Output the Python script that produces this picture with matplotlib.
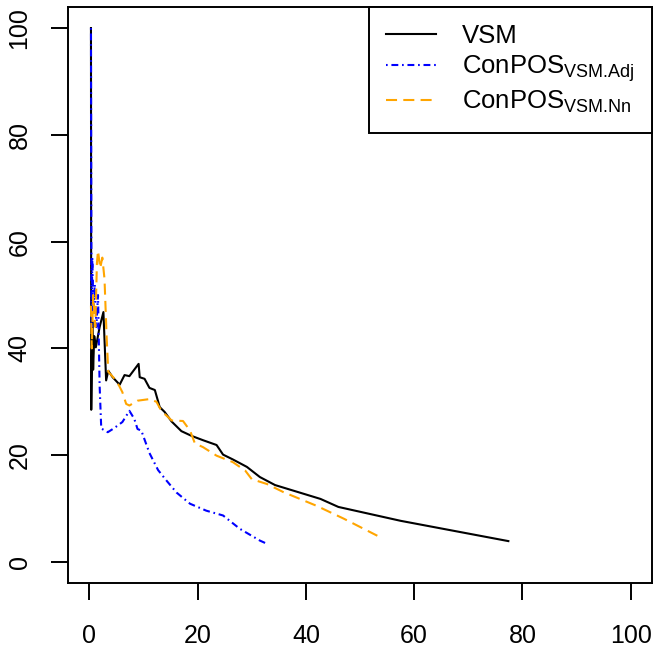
import matplotlib
matplotlib.use("Agg")
import matplotlib.pyplot as plt

plt.rcParams["font.family"] = ["Liberation Sans", "DejaVu Sans"]
plt.rcParams["mathtext.fontset"] = "custom"
plt.rcParams["mathtext.rm"] = "Liberation Sans"
plt.rcParams["mathtext.it"] = "Liberation Sans"

# series
vsm_x = [0.3, 0.35, 0.55, 0.7, 0.9, 1.2, 1.9, 2.6, 3.1, 3.5, 4.3, 5.6, 6.5, 7.4,
         9.1, 9.3, 10.2, 11.1, 12.1, 13.0, 13.9, 15.2, 17.0, 18.9, 21.0, 23.5,
         24.7, 26.5, 29.1, 31.5, 34.3, 42.7, 46.0, 57.5, 77.4]
vsm_y = [100, 28.5, 45, 36, 42.3, 40.2, 44, 46.8, 34, 35.8, 34.6, 33.2, 35, 34.8,
         37.1, 34.6, 34.3, 32.6, 32.2, 29, 28.1, 26.3, 24.5, 23.6, 22.8, 21.9,
         20.1, 19.2, 17.8, 15.9, 14.4, 11.8, 10.3, 7.7, 3.9]

adj_x = [0.3, 0.4, 0.55, 0.75, 1.0, 1.3, 1.6, 1.9, 2.2, 3.4, 4.5, 6.1, 7.4, 8.3,
         8.9, 9.6, 11.1, 12.7, 14.2, 16.1, 18.6, 21.6, 24.7, 27.8, 31.5, 32.8]
adj_y = [100, 44, 57, 47, 52, 44, 50, 33, 25, 24.3, 25, 26.2, 28.3, 26.8,
         24.9, 24.6, 20.4, 17.2, 15.3, 13, 10.9, 9.6, 8.7, 6.2, 4, 3.4]

nn_x = [0.3, 0.45, 0.7, 1.1, 1.4, 1.6, 2.0, 2.4, 2.8, 3.2, 3.5, 4.5, 5.5, 6.1,
        6.8, 7.4, 8.9, 11.1, 12.4, 13.3, 15.2, 17.3, 18.6, 19.5, 21.0, 23.5,
        26.5, 28.8, 30.0, 32.8, 35.8, 42.0, 47.0, 53.2]
nn_y = [48, 40, 50, 44, 56, 58.3, 55, 57, 53, 42, 35.6, 34.5, 33, 31.8,
        29.6, 29.3, 30.2, 30.5, 30, 28.3, 26.5, 26.4, 24.6, 22.2, 21.5, 19.9,
        18.7, 17.1, 15.5, 14.6, 13.1, 10.5, 8.1, 4.9]

labels = ["VSM", r"ConPOS$_{\text{VSM.Adj}}$", r"ConPOS$_{\text{VSM.Nn}}$"]
ticks = [0, 20, 40, 60, 80, 100]

fig = plt.figure(figsize=(6.54, 6.52), dpi=100)
ax = fig.add_axes([0.1035, 0.1054, 0.894, 0.8843])

ax.plot(vsm_x, vsm_y, color="black", lw=1.5, label=labels[0])
ax.plot(adj_x, adj_y, color="blue", lw=1.5, ls=(0, (0.8, 1.8, 3.3, 1.8)),
        label=labels[1])
ax.plot(nn_x, nn_y, color="orange", lw=1.5, ls=(0, (5.3, 3.0)), label=labels[2])

ax.set_xlim(-4, 104)
ax.set_ylim(-4, 104)
ax.set_xticks(ticks)
ax.set_yticks(ticks)
ax.tick_params(length=12, width=1.4, labelsize=18, direction="out")
ax.tick_params(axis="x", pad=17)
ax.tick_params(axis="y", pad=14)
for lab in ax.get_yticklabels():
    lab.set_rotation(90)
    lab.set_va("center")
for s in ax.spines.values():
    s.set_linewidth(1.4)

leg = ax.legend(loc="upper right", borderaxespad=0, fontsize=18.5, fancybox=False,
                edgecolor="black", framealpha=1, handlelength=1.95,
                handletextpad=1.0, borderpad=0.68, labelspacing=0.2)
leg.get_frame().set_linewidth(1.4)

fig.savefig("out.png", dpi=100)
